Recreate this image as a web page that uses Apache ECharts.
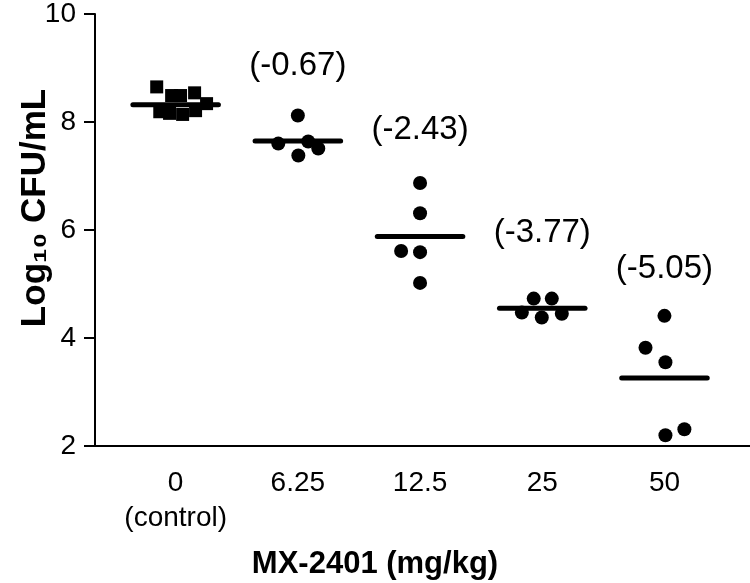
<!DOCTYPE html>
<html>
<head>
<meta charset="utf-8">
<script src="https://cdn.jsdelivr.net/npm/echarts@6/dist/echarts.min.js"></script>
<style>html,body{margin:0;padding:0;background:#fff}#c{width:750px;height:583px}</style>
</head>
<body>
<div id="c"></div>
<script>
// ---- data ----
const categories = ['0\n(control)', '6.25', '12.5', '25', '50'];
const yTicks = [2, 4, 6, 8, 10];
// control group (squares): x offsets from category centre, values
const ctrlOffsets = [-0.155, -0.13, -0.033, -0.05, 0.057, 0.04, 0.155, 0.163, 0.253];
const ctrlValues  = [8.65, 8.19, 8.49, 8.16, 8.14, 8.49, 8.54, 8.21, 8.34];
// 6.25 mg/kg
const d625Offsets = [0.0, -0.16, 0.085, 0.167, 0.004];
const d625Values  = [8.12, 7.60, 7.64, 7.51, 7.38];
// 12.5 mg/kg
const d125Offsets = [0.0, 0.0, -0.155, 0.0, 0.0];
const d125Values  = [6.87, 6.31, 5.61, 5.59, 5.02];
// 25 mg/kg
const d25Offsets = [-0.167, -0.07, -0.004, 0.078, 0.16];
const d25Values  = [4.47, 4.73, 4.38, 4.73, 4.45];
// 50 mg/kg
const d50Offsets = [0.0, -0.155, 0.008, 0.008, 0.163];
const d50Values  = [4.41, 3.82, 3.55, 2.20, 2.31];
// group means (horizontal bars)
const means = [8.32, 7.65, 5.88, 4.55, 3.26];
// reduction annotations
const diffLabels = ['(-0.67)', '(-2.43)', '(-3.77)', '(-5.05)'];
const diffLabelY = [9.04, 7.86, 5.94, 5.28];

// ---- build ----
const FONT = 'Liberation Sans, Arial, sans-serif';
function pts(center, offs, vals) { return vals.map((v, i) => [center + offs[i], v]); }
const circleGroups = [
  pts(2, d625Offsets, d625Values),
  pts(3, d125Offsets, d125Values),
  pts(4, d25Offsets, d25Values),
  pts(5, d50Offsets, d50Values)
];
const series = [];
series.push({
  type: 'scatter', symbol: 'rect', symbolSize: 13,
  itemStyle: { color: '#000', opacity: 1 }, data: pts(1, ctrlOffsets, ctrlValues), z: 3
});
circleGroups.forEach(d => series.push({
  type: 'scatter', symbol: 'circle', symbolSize: 14,
  itemStyle: { color: '#000', opacity: 1 }, data: d, z: 3
}));
means.forEach((m, i) => series.push({
  type: 'line', symbol: 'none', silent: true,
  lineStyle: { color: '#000', width: 5, cap: 'round', opacity: 1 },
  data: [[i + 1 - 0.35, m], [i + 1 + 0.35, m]], z: 4
}));
series.push({
  type: 'scatter', symbolSize: 0,
  itemStyle: { opacity: 1 },
  data: diffLabels.map((t, i) => [i + 2, diffLabelY[i]]),
  label: {
    show: true, position: 'inside', color: '#000', opacity: 1,
    fontFamily: FONT, fontSize: 33,
    formatter: p => diffLabels[p.dataIndex]
  }
});

const chart = echarts.init(document.getElementById('c'));
chart.setOption({
  animation: false,
  backgroundColor: '#fff',
  grid: { left: 95, right: 0, top: 12, bottom: 137 },
  xAxis: {
    type: 'value', min: 0.34, max: 5.7,
    splitLine: { show: false },
    axisLine: { lineStyle: { color: '#000', width: 2 } },
    axisTick: { show: false },
    axisLabel: {
      customValues: [1, 2, 3, 4, 5],
      color: '#000', fontFamily: FONT, fontSize: 28, lineHeight: 35, margin: 20,
      formatter: v => categories[Math.round(v) - 1] || ''
    }
  },
  yAxis: {
    type: 'value', min: 2, max: 10, interval: 2,
    splitLine: { show: false },
    axisLine: { show: true, lineStyle: { color: '#000', width: 2 } },
    axisTick: { show: true, length: 11, lineStyle: { color: '#000', width: 2 } },
    axisLabel: { color: '#000', fontFamily: FONT, fontSize: 28, margin: 19 }
  },
  graphic: [
    {
      type: 'text', x: 35, y: 208, rotation: Math.PI / 2,
      style: { text: 'Log₁₀ CFU/mL', fill: '#000', font: 'bold 35px ' + FONT, align: 'center', verticalAlign: 'middle' }
    },
    {
      type: 'text', x: 375, y: 564,
      style: { text: 'MX-2401 (mg/kg)', fill: '#000', font: 'bold 31px ' + FONT, align: 'center', verticalAlign: 'middle' }
    }
  ],
  series: series
});
</script>
</body>
</html>
